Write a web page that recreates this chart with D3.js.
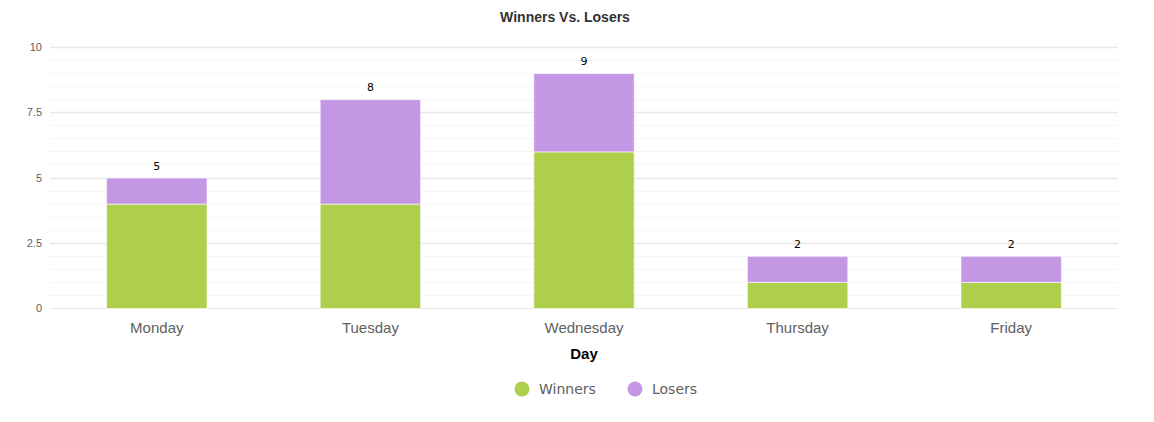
<!DOCTYPE html>
<html><head><meta charset="utf-8">
<script src="https://cdn.jsdelivr.net/npm/d3@7"></script>
<style>body{margin:0;background:#fff}svg{display:block}</style>
</head><body><div id="chart"></div>
<script>
const categories = ["Monday","Tuesday","Wednesday","Thursday","Friday"];
const winners = [4,4,6,1,1];
const losers = [1,4,3,1,1];
const yTicks = [0,2.5,5,7.5,10];
const yMinor = d3.range(0,10.01,0.5);
const seriesNames = ["Winners","Losers"];
const colors = ["#aecf4b","#c397e4"];

const W=1154,H=422;
const m={l:50,r:36,t:47,b:114};
const svg=d3.select("#chart").append("svg").attr("width",W).attr("height",H);
const x=d3.scaleBand().domain(categories).range([m.l,W-m.r]).paddingInner(0.53).paddingOuter(0.265);
const y=d3.scaleLinear().domain([0,10]).range([308,47]);
const font="'Liberation Sans', Arial, sans-serif";

// minor grid
svg.append("g").selectAll("line").data(yMinor).join("line")
  .attr("x1",m.l).attr("x2",W-m.r).attr("y1",d=>Math.round(y(d))+0.5).attr("y2",d=>Math.round(y(d))+0.5)
  .attr("stroke","#f5f5f5").attr("stroke-width",1);
// major grid
svg.append("g").selectAll("line").data(yTicks).join("line")
  .attr("x1",m.l).attr("x2",W-m.r).attr("y1",d=>Math.round(y(d))+0.5).attr("y2",d=>Math.round(y(d))+0.5)
  .attr("stroke","#e8e8e8").attr("stroke-width",d=>d===0?1:1.5);

// y axis
const yAxis=svg.append("g").attr("transform",`translate(${m.l},0)`)
  .call(d3.axisLeft(y).tickValues(yTicks).tickSize(0).tickPadding(8).tickFormat(d=>d3.format("~g")(d)));
yAxis.select(".domain").remove();
yAxis.selectAll("text").attr("font-family",font).attr("font-size",11).attr("fill","#606060");

// x axis
const xAxis=svg.append("g").attr("transform",`translate(0,308)`)
  .call(d3.axisBottom(x).tickSize(0).tickPadding(14));
xAxis.select(".domain").remove();
xAxis.selectAll("text").attr("font-family",font).attr("font-size",15).attr("fill","#606060");

// stacked bars
const data=categories.map((c,i)=>({cat:c,Winners:winners[i],Losers:losers[i]}));
const stack=d3.stack().keys(seriesNames)(data);
svg.append("g").selectAll("g").data(stack).join("g").attr("fill",(d,i)=>colors[i])
  .selectAll("rect").data(d=>d).join("rect")
  .attr("x",d=>x(d.data.cat)).attr("width",x.bandwidth())
  .attr("y",d=>y(d[1])+0.5).attr("height",d=>y(d[0])-y(d[1]))
  .attr("stroke","#ffffff").attr("stroke-opacity",0.6).attr("stroke-width",1);

// totals
svg.append("g").selectAll("text").data(data).join("text")
  .attr("x",d=>x(d.cat)+x.bandwidth()/2).attr("y",d=>y(d.Winners+d.Losers)-8)
  .attr("text-anchor","middle").attr("font-family","'DejaVu Sans', sans-serif").attr("font-size",11).attr("fill","#000")
  .text(d=>d.Winners+d.Losers);

// title
svg.append("text").attr("x",565).attr("y",22).attr("text-anchor","middle")
  .attr("font-family",font).attr("font-weight","bold").attr("font-size",14).attr("fill","#333").text("Winners Vs. Losers");
// x title
svg.append("text").attr("x",584).attr("y",359).attr("text-anchor","middle")
  .attr("font-family",font).attr("font-weight","bold").attr("font-size",15).attr("fill","#000").text("Day");

// legend
const lx=[522,635];
const lg=svg.append("g").selectAll("g").data(seriesNames).join("g")
  .attr("transform",(d,i)=>`translate(${lx[i]},389)`);
lg.append("circle").attr("r",7.5).attr("fill",(d,i)=>colors[i]);
lg.append("text").attr("x",17).attr("y",5).attr("font-family","'DejaVu Sans', sans-serif").attr("font-size",14).attr("fill","#606060").text(d=>d);
</script></body></html>
